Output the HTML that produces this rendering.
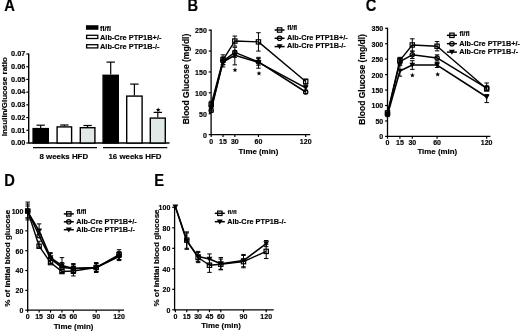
<!DOCTYPE html>
<html><head><meta charset="utf-8"><style>
html,body{margin:0;padding:0;background:#fff;width:520px;height:332px;overflow:hidden}
svg{display:block;filter:blur(0.35px)}
text{font-family:"Liberation Sans", sans-serif;fill:#000;stroke:#000;stroke-width:0.15px}
</style></head><body>
<svg width="520" height="332" viewBox="0 0 520 332">
<rect width="520" height="332" fill="#fff"/>
<text transform="translate(4.30 10.90) scale(0.92 1)" x="0" y="0" font-size="16" font-weight="bold">A</text>
<line x1="28.70" y1="53.40" x2="28.70" y2="143.60" stroke="#000" stroke-width="1.4"/>
<line x1="26.30" y1="143.00" x2="28.70" y2="143.00" stroke="#000" stroke-width="1.2"/>
<text x="25.30" y="145.30" font-size="7.3" text-anchor="end" font-weight="bold">0.00</text>
<line x1="26.30" y1="130.29" x2="28.70" y2="130.29" stroke="#000" stroke-width="1.2"/>
<text x="25.30" y="132.59" font-size="7.3" text-anchor="end" font-weight="bold">0.01</text>
<line x1="26.30" y1="117.57" x2="28.70" y2="117.57" stroke="#000" stroke-width="1.2"/>
<text x="25.30" y="119.87" font-size="7.3" text-anchor="end" font-weight="bold">0.02</text>
<line x1="26.30" y1="104.86" x2="28.70" y2="104.86" stroke="#000" stroke-width="1.2"/>
<text x="25.30" y="107.16" font-size="7.3" text-anchor="end" font-weight="bold">0.03</text>
<line x1="26.30" y1="92.14" x2="28.70" y2="92.14" stroke="#000" stroke-width="1.2"/>
<text x="25.30" y="94.44" font-size="7.3" text-anchor="end" font-weight="bold">0.04</text>
<line x1="26.30" y1="79.43" x2="28.70" y2="79.43" stroke="#000" stroke-width="1.2"/>
<text x="25.30" y="81.73" font-size="7.3" text-anchor="end" font-weight="bold">0.05</text>
<line x1="26.30" y1="66.71" x2="28.70" y2="66.71" stroke="#000" stroke-width="1.2"/>
<text x="25.30" y="69.01" font-size="7.3" text-anchor="end" font-weight="bold">0.06</text>
<line x1="26.30" y1="54.00" x2="28.70" y2="54.00" stroke="#000" stroke-width="1.2"/>
<text x="25.30" y="56.30" font-size="7.3" text-anchor="end" font-weight="bold">0.07</text>
<line x1="28.70" y1="143.00" x2="169.50" y2="143.00" stroke="#000" stroke-width="1.4"/>
<text x="6.60" y="96.70" font-size="8" text-anchor="middle" font-weight="bold" transform="rotate(-90 6.6 96.7)">Insulin/Glucose ratio</text>
<line x1="40.70" y1="127.90" x2="40.70" y2="125.20" stroke="#000" stroke-width="1.2"/>
<line x1="36.50" y1="125.20" x2="44.90" y2="125.20" stroke="#000" stroke-width="1.2"/>
<rect x="33.10" y="128.60" width="15.20" height="14.40" fill="#000" stroke="#000" stroke-width="1.4"/>
<line x1="64.35" y1="126.20" x2="64.35" y2="125.00" stroke="#000" stroke-width="1.2"/>
<line x1="60.15" y1="125.00" x2="68.55" y2="125.00" stroke="#000" stroke-width="1.2"/>
<rect x="57.10" y="126.90" width="14.50" height="16.10" fill="#fff" stroke="#000" stroke-width="1.4"/>
<line x1="87.60" y1="127.00" x2="87.60" y2="125.50" stroke="#000" stroke-width="1.2"/>
<line x1="83.40" y1="125.50" x2="91.80" y2="125.50" stroke="#000" stroke-width="1.2"/>
<rect x="80.30" y="127.70" width="14.60" height="15.30" fill="#e0e9e6" stroke="#000" stroke-width="1.4"/>
<line x1="110.70" y1="74.60" x2="110.70" y2="62.10" stroke="#000" stroke-width="1.2"/>
<line x1="106.50" y1="62.10" x2="114.90" y2="62.10" stroke="#000" stroke-width="1.2"/>
<rect x="103.10" y="75.30" width="15.20" height="67.70" fill="#000" stroke="#000" stroke-width="1.4"/>
<line x1="134.40" y1="95.40" x2="134.40" y2="84.10" stroke="#000" stroke-width="1.2"/>
<line x1="130.20" y1="84.10" x2="138.60" y2="84.10" stroke="#000" stroke-width="1.2"/>
<rect x="126.70" y="96.10" width="15.40" height="46.90" fill="#fff" stroke="#000" stroke-width="1.4"/>
<line x1="157.80" y1="117.40" x2="157.80" y2="112.40" stroke="#000" stroke-width="1.2"/>
<line x1="153.60" y1="112.40" x2="162.00" y2="112.40" stroke="#000" stroke-width="1.2"/>
<rect x="150.30" y="118.10" width="15.00" height="24.90" fill="#e0e9e6" stroke="#000" stroke-width="1.4"/>
<polygon points="158.20,107.40 158.86,108.99 160.58,109.13 159.27,110.25 159.67,111.92 158.20,111.02 156.73,111.92 157.13,110.25 155.82,109.13 157.54,108.99" fill="#000"/>
<line x1="33.00" y1="147.60" x2="97.00" y2="147.60" stroke="#000" stroke-width="1.4"/>
<line x1="103.00" y1="147.60" x2="167.30" y2="147.60" stroke="#000" stroke-width="1.4"/>
<text x="63.80" y="159.20" font-size="7.9" text-anchor="middle" font-weight="bold">8 weeks HFD</text>
<text x="135.00" y="159.20" font-size="7.9" text-anchor="middle" font-weight="bold">16 weeks HFD</text>
<rect x="86.6" y="25.90" width="11.2" height="3.2" fill="#000" stroke="#000" stroke-width="1.3"/>
<text x="100.00" y="30.60" font-size="7.4" text-anchor="start" font-weight="bold">fl/fl</text>
<rect x="86.6" y="35.30" width="11.2" height="3.2" fill="#fff" stroke="#000" stroke-width="1.3"/>
<text x="100.00" y="39.50" font-size="7.4" text-anchor="start" font-weight="bold">Alb-Cre PTP1B+/-</text>
<rect x="86.6" y="44.70" width="11.2" height="3.2" fill="#fff" stroke="#000" stroke-width="1.3"/>
<text x="100.00" y="48.90" font-size="7.4" text-anchor="start" font-weight="bold">Alb-Cre PTP1B-/-</text>
<text transform="translate(187.60 10.80) scale(0.92 1)" x="0" y="0" font-size="16" font-weight="bold">B</text>
<line x1="211.10" y1="29.60" x2="211.10" y2="135.20" stroke="#000" stroke-width="1.3"/>
<line x1="208.70" y1="134.60" x2="211.10" y2="134.60" stroke="#000" stroke-width="1.2"/>
<text x="206.80" y="137.50" font-size="7" text-anchor="end" font-weight="bold">0</text>
<line x1="208.70" y1="113.72" x2="211.10" y2="113.72" stroke="#000" stroke-width="1.2"/>
<text x="206.80" y="116.62" font-size="7" text-anchor="end" font-weight="bold">50</text>
<line x1="208.70" y1="92.84" x2="211.10" y2="92.84" stroke="#000" stroke-width="1.2"/>
<text x="206.80" y="95.74" font-size="7" text-anchor="end" font-weight="bold">100</text>
<line x1="208.70" y1="71.96" x2="211.10" y2="71.96" stroke="#000" stroke-width="1.2"/>
<text x="206.80" y="74.86" font-size="7" text-anchor="end" font-weight="bold">150</text>
<line x1="208.70" y1="51.08" x2="211.10" y2="51.08" stroke="#000" stroke-width="1.2"/>
<text x="206.80" y="53.98" font-size="7" text-anchor="end" font-weight="bold">200</text>
<line x1="208.70" y1="30.20" x2="211.10" y2="30.20" stroke="#000" stroke-width="1.2"/>
<text x="206.80" y="33.10" font-size="7" text-anchor="end" font-weight="bold">250</text>
<line x1="211.10" y1="134.60" x2="310.30" y2="134.60" stroke="#000" stroke-width="1.3"/>
<line x1="211.20" y1="134.60" x2="211.20" y2="137.00" stroke="#000" stroke-width="1.2"/>
<text x="211.20" y="143.80" font-size="7" text-anchor="middle" font-weight="bold">0</text>
<line x1="223.01" y1="134.60" x2="223.01" y2="137.00" stroke="#000" stroke-width="1.2"/>
<text x="223.01" y="143.80" font-size="7" text-anchor="middle" font-weight="bold">15</text>
<line x1="234.82" y1="134.60" x2="234.82" y2="137.00" stroke="#000" stroke-width="1.2"/>
<text x="234.82" y="143.80" font-size="7" text-anchor="middle" font-weight="bold">30</text>
<line x1="258.45" y1="134.60" x2="258.45" y2="137.00" stroke="#000" stroke-width="1.2"/>
<text x="258.45" y="143.80" font-size="7" text-anchor="middle" font-weight="bold">60</text>
<line x1="305.70" y1="134.60" x2="305.70" y2="137.00" stroke="#000" stroke-width="1.2"/>
<text x="305.70" y="143.80" font-size="7" text-anchor="middle" font-weight="bold">120</text>
<text x="258.40" y="154.10" font-size="7.9" text-anchor="middle" font-weight="bold">Time (min)</text>
<text x="188.60" y="79.00" font-size="8.5" text-anchor="middle" font-weight="bold" transform="rotate(-90 188.6 79.0)">Blood Glucose (mg/dl)</text>
<polyline points="211.20,110.38 223.01,61.10 234.82,52.33 258.45,61.94 305.70,92.00" fill="none" stroke="#000" stroke-width="1.5" stroke-linejoin="round"/>
<polyline points="211.20,107.46 223.01,61.94 234.82,55.26 258.45,62.36 305.70,87.83" fill="none" stroke="#000" stroke-width="1.6" stroke-linejoin="round"/>
<polyline points="211.20,104.53 223.01,59.85 234.82,41.06 258.45,41.89 305.70,81.56" fill="none" stroke="#000" stroke-width="1.4" stroke-linejoin="round"/>
<line x1="211.20" y1="110.38" x2="211.20" y2="108.29" stroke="#000" stroke-width="1.0"/>
<line x1="208.95" y1="108.29" x2="213.45" y2="108.29" stroke="#000" stroke-width="1.0"/>
<line x1="211.20" y1="110.38" x2="211.20" y2="112.47" stroke="#000" stroke-width="1.0"/>
<line x1="208.95" y1="112.47" x2="213.45" y2="112.47" stroke="#000" stroke-width="1.0"/>
<line x1="223.01" y1="61.10" x2="223.01" y2="57.76" stroke="#000" stroke-width="1.0"/>
<line x1="220.76" y1="57.76" x2="225.26" y2="57.76" stroke="#000" stroke-width="1.0"/>
<line x1="223.01" y1="61.10" x2="223.01" y2="64.44" stroke="#000" stroke-width="1.0"/>
<line x1="220.76" y1="64.44" x2="225.26" y2="64.44" stroke="#000" stroke-width="1.0"/>
<line x1="234.82" y1="52.33" x2="234.82" y2="47.32" stroke="#000" stroke-width="1.0"/>
<line x1="232.57" y1="47.32" x2="237.07" y2="47.32" stroke="#000" stroke-width="1.0"/>
<line x1="234.82" y1="52.33" x2="234.82" y2="57.34" stroke="#000" stroke-width="1.0"/>
<line x1="232.57" y1="57.34" x2="237.07" y2="57.34" stroke="#000" stroke-width="1.0"/>
<line x1="258.45" y1="61.94" x2="258.45" y2="58.60" stroke="#000" stroke-width="1.0"/>
<line x1="256.20" y1="58.60" x2="260.70" y2="58.60" stroke="#000" stroke-width="1.0"/>
<line x1="258.45" y1="61.94" x2="258.45" y2="65.28" stroke="#000" stroke-width="1.0"/>
<line x1="256.20" y1="65.28" x2="260.70" y2="65.28" stroke="#000" stroke-width="1.0"/>
<line x1="305.70" y1="92.00" x2="305.70" y2="90.33" stroke="#000" stroke-width="1.0"/>
<line x1="303.45" y1="90.33" x2="307.95" y2="90.33" stroke="#000" stroke-width="1.0"/>
<line x1="305.70" y1="92.00" x2="305.70" y2="93.68" stroke="#000" stroke-width="1.0"/>
<line x1="303.45" y1="93.68" x2="307.95" y2="93.68" stroke="#000" stroke-width="1.0"/>
<line x1="211.20" y1="107.46" x2="211.20" y2="104.12" stroke="#000" stroke-width="1.0"/>
<line x1="208.95" y1="104.12" x2="213.45" y2="104.12" stroke="#000" stroke-width="1.0"/>
<line x1="211.20" y1="107.46" x2="211.20" y2="110.80" stroke="#000" stroke-width="1.0"/>
<line x1="208.95" y1="110.80" x2="213.45" y2="110.80" stroke="#000" stroke-width="1.0"/>
<line x1="223.01" y1="61.94" x2="223.01" y2="56.93" stroke="#000" stroke-width="1.0"/>
<line x1="220.76" y1="56.93" x2="225.26" y2="56.93" stroke="#000" stroke-width="1.0"/>
<line x1="223.01" y1="61.94" x2="223.01" y2="66.95" stroke="#000" stroke-width="1.0"/>
<line x1="220.76" y1="66.95" x2="225.26" y2="66.95" stroke="#000" stroke-width="1.0"/>
<line x1="234.82" y1="55.26" x2="234.82" y2="51.08" stroke="#000" stroke-width="1.0"/>
<line x1="232.57" y1="51.08" x2="237.07" y2="51.08" stroke="#000" stroke-width="1.0"/>
<line x1="234.82" y1="55.26" x2="234.82" y2="64.86" stroke="#000" stroke-width="1.0"/>
<line x1="232.57" y1="64.86" x2="237.07" y2="64.86" stroke="#000" stroke-width="1.0"/>
<line x1="258.45" y1="62.36" x2="258.45" y2="57.34" stroke="#000" stroke-width="1.0"/>
<line x1="256.20" y1="57.34" x2="260.70" y2="57.34" stroke="#000" stroke-width="1.0"/>
<line x1="258.45" y1="62.36" x2="258.45" y2="68.20" stroke="#000" stroke-width="1.0"/>
<line x1="256.20" y1="68.20" x2="260.70" y2="68.20" stroke="#000" stroke-width="1.0"/>
<line x1="305.70" y1="87.83" x2="305.70" y2="85.32" stroke="#000" stroke-width="1.0"/>
<line x1="303.45" y1="85.32" x2="307.95" y2="85.32" stroke="#000" stroke-width="1.0"/>
<line x1="305.70" y1="87.83" x2="305.70" y2="90.33" stroke="#000" stroke-width="1.0"/>
<line x1="303.45" y1="90.33" x2="307.95" y2="90.33" stroke="#000" stroke-width="1.0"/>
<line x1="211.20" y1="104.53" x2="211.20" y2="101.19" stroke="#000" stroke-width="1.0"/>
<line x1="208.95" y1="101.19" x2="213.45" y2="101.19" stroke="#000" stroke-width="1.0"/>
<line x1="211.20" y1="104.53" x2="211.20" y2="107.87" stroke="#000" stroke-width="1.0"/>
<line x1="208.95" y1="107.87" x2="213.45" y2="107.87" stroke="#000" stroke-width="1.0"/>
<line x1="223.01" y1="59.85" x2="223.01" y2="54.84" stroke="#000" stroke-width="1.0"/>
<line x1="220.76" y1="54.84" x2="225.26" y2="54.84" stroke="#000" stroke-width="1.0"/>
<line x1="223.01" y1="59.85" x2="223.01" y2="64.86" stroke="#000" stroke-width="1.0"/>
<line x1="220.76" y1="64.86" x2="225.26" y2="64.86" stroke="#000" stroke-width="1.0"/>
<line x1="234.82" y1="41.06" x2="234.82" y2="36.05" stroke="#000" stroke-width="1.0"/>
<line x1="232.57" y1="36.05" x2="237.07" y2="36.05" stroke="#000" stroke-width="1.0"/>
<line x1="234.82" y1="41.06" x2="234.82" y2="46.07" stroke="#000" stroke-width="1.0"/>
<line x1="232.57" y1="46.07" x2="237.07" y2="46.07" stroke="#000" stroke-width="1.0"/>
<line x1="258.45" y1="41.89" x2="258.45" y2="32.71" stroke="#000" stroke-width="1.0"/>
<line x1="256.20" y1="32.71" x2="260.70" y2="32.71" stroke="#000" stroke-width="1.0"/>
<line x1="258.45" y1="41.89" x2="258.45" y2="51.08" stroke="#000" stroke-width="1.0"/>
<line x1="256.20" y1="51.08" x2="260.70" y2="51.08" stroke="#000" stroke-width="1.0"/>
<line x1="305.70" y1="81.56" x2="305.70" y2="79.06" stroke="#000" stroke-width="1.0"/>
<line x1="303.45" y1="79.06" x2="307.95" y2="79.06" stroke="#000" stroke-width="1.0"/>
<line x1="305.70" y1="81.56" x2="305.70" y2="84.07" stroke="#000" stroke-width="1.0"/>
<line x1="303.45" y1="84.07" x2="307.95" y2="84.07" stroke="#000" stroke-width="1.0"/>
<circle cx="211.20" cy="110.38" r="2.15" fill="none" stroke="#000" stroke-width="1.2"/>
<circle cx="223.01" cy="61.10" r="2.15" fill="none" stroke="#000" stroke-width="1.2"/>
<circle cx="234.82" cy="52.33" r="2.15" fill="none" stroke="#000" stroke-width="1.2"/>
<circle cx="258.45" cy="61.94" r="2.15" fill="none" stroke="#000" stroke-width="1.2"/>
<circle cx="305.70" cy="92.00" r="2.15" fill="none" stroke="#000" stroke-width="1.2"/>
<polygon points="208.30,105.20 214.10,105.20 211.20,110.11" fill="#000"/>
<polygon points="220.11,59.68 225.91,59.68 223.01,64.60" fill="#000"/>
<polygon points="231.92,53.00 237.73,53.00 234.82,57.91" fill="#000"/>
<polygon points="255.55,60.10 261.35,60.10 258.45,65.01" fill="#000"/>
<polygon points="302.80,85.57 308.60,85.57 305.70,90.49" fill="#000"/>
<rect x="209.05" y="102.38" width="4.30" height="4.30" fill="none" stroke="#000" stroke-width="1.2"/>
<rect x="220.86" y="57.70" width="4.30" height="4.30" fill="none" stroke="#000" stroke-width="1.2"/>
<rect x="232.67" y="38.91" width="4.30" height="4.30" fill="none" stroke="#000" stroke-width="1.2"/>
<rect x="256.30" y="39.74" width="4.30" height="4.30" fill="none" stroke="#000" stroke-width="1.2"/>
<rect x="303.55" y="79.41" width="4.30" height="4.30" fill="none" stroke="#000" stroke-width="1.2"/>
<polygon points="235.00,67.60 235.66,69.19 237.38,69.33 236.07,70.45 236.47,72.12 235.00,71.22 233.53,72.12 233.93,70.45 232.62,69.33 234.34,69.19" fill="#000"/>
<polygon points="259.00,71.00 259.66,72.59 261.38,72.73 260.07,73.85 260.47,75.52 259.00,74.62 257.53,75.52 257.93,73.85 256.62,72.73 258.34,72.59" fill="#000"/>
<line x1="274.60" y1="30.00" x2="284.60" y2="30.00" stroke="#000" stroke-width="1.5"/>
<rect x="277.40" y="27.80" width="4.40" height="4.40" fill="none" stroke="#000" stroke-width="1.2"/>
<text x="287.20" y="30.40" font-size="6.7" text-anchor="start" font-weight="bold">fl/fl</text>
<line x1="274.60" y1="38.30" x2="284.60" y2="38.30" stroke="#000" stroke-width="1.5"/>
<circle cx="279.60" cy="38.30" r="2.20" fill="none" stroke="#000" stroke-width="1.2"/>
<text x="287.00" y="40.10" font-size="7.3" text-anchor="start" font-weight="bold">Alb-Cre PTP1B+/-</text>
<line x1="274.60" y1="46.60" x2="284.60" y2="46.60" stroke="#000" stroke-width="1.5"/>
<polygon points="276.63,44.29 282.57,44.29 279.60,49.31" fill="#000"/>
<text x="287.00" y="48.40" font-size="7.3" text-anchor="start" font-weight="bold">Alb-Cre PTP1B-/-</text>
<text transform="translate(365.80 10.80) scale(0.92 1)" x="0" y="0" font-size="16" font-weight="bold">C</text>
<line x1="387.50" y1="27.70" x2="387.50" y2="137.00" stroke="#000" stroke-width="1.3"/>
<line x1="385.10" y1="136.40" x2="387.50" y2="136.40" stroke="#000" stroke-width="1.2"/>
<text x="383.20" y="139.30" font-size="7" text-anchor="end" font-weight="bold">0</text>
<line x1="385.10" y1="120.96" x2="387.50" y2="120.96" stroke="#000" stroke-width="1.2"/>
<text x="383.20" y="123.86" font-size="7" text-anchor="end" font-weight="bold">50</text>
<line x1="385.10" y1="105.51" x2="387.50" y2="105.51" stroke="#000" stroke-width="1.2"/>
<text x="383.20" y="108.41" font-size="7" text-anchor="end" font-weight="bold">100</text>
<line x1="385.10" y1="90.07" x2="387.50" y2="90.07" stroke="#000" stroke-width="1.2"/>
<text x="383.20" y="92.97" font-size="7" text-anchor="end" font-weight="bold">150</text>
<line x1="385.10" y1="74.63" x2="387.50" y2="74.63" stroke="#000" stroke-width="1.2"/>
<text x="383.20" y="77.53" font-size="7" text-anchor="end" font-weight="bold">200</text>
<line x1="385.10" y1="59.19" x2="387.50" y2="59.19" stroke="#000" stroke-width="1.2"/>
<text x="383.20" y="62.09" font-size="7" text-anchor="end" font-weight="bold">250</text>
<line x1="385.10" y1="43.74" x2="387.50" y2="43.74" stroke="#000" stroke-width="1.2"/>
<text x="383.20" y="46.64" font-size="7" text-anchor="end" font-weight="bold">300</text>
<line x1="385.10" y1="28.30" x2="387.50" y2="28.30" stroke="#000" stroke-width="1.2"/>
<text x="383.20" y="31.20" font-size="7" text-anchor="end" font-weight="bold">350</text>
<line x1="387.50" y1="136.40" x2="490.40" y2="136.40" stroke="#000" stroke-width="1.3"/>
<line x1="387.50" y1="136.40" x2="387.50" y2="138.80" stroke="#000" stroke-width="1.2"/>
<text x="387.50" y="145.20" font-size="7" text-anchor="middle" font-weight="bold">0</text>
<line x1="399.90" y1="136.40" x2="399.90" y2="138.80" stroke="#000" stroke-width="1.2"/>
<text x="399.90" y="145.20" font-size="7" text-anchor="middle" font-weight="bold">15</text>
<line x1="412.30" y1="136.40" x2="412.30" y2="138.80" stroke="#000" stroke-width="1.2"/>
<text x="412.30" y="145.20" font-size="7" text-anchor="middle" font-weight="bold">30</text>
<line x1="437.09" y1="136.40" x2="437.09" y2="138.80" stroke="#000" stroke-width="1.2"/>
<text x="437.09" y="145.20" font-size="7" text-anchor="middle" font-weight="bold">60</text>
<line x1="486.68" y1="136.40" x2="486.68" y2="138.80" stroke="#000" stroke-width="1.2"/>
<text x="486.68" y="145.20" font-size="7" text-anchor="middle" font-weight="bold">120</text>
<text x="437.30" y="153.80" font-size="7.9" text-anchor="middle" font-weight="bold">Time (min)</text>
<text x="365.20" y="79.40" font-size="8.5" text-anchor="middle" font-weight="bold" transform="rotate(-90 365.2 79.4)">Blood Glucose (mg/dl)</text>
<polyline points="387.50,114.16 399.90,61.66 412.30,54.86 437.09,57.95 486.68,88.22" fill="none" stroke="#000" stroke-width="1.5" stroke-linejoin="round"/>
<polyline points="387.50,114.78 399.90,70.92 412.30,65.05 437.09,65.05 486.68,97.02" fill="none" stroke="#000" stroke-width="1.6" stroke-linejoin="round"/>
<polyline points="387.50,112.93 399.90,60.42 412.30,44.98 437.09,46.21 486.68,88.84" fill="none" stroke="#000" stroke-width="1.4" stroke-linejoin="round"/>
<line x1="387.50" y1="114.16" x2="387.50" y2="112.62" stroke="#000" stroke-width="1.0"/>
<line x1="385.25" y1="112.62" x2="389.75" y2="112.62" stroke="#000" stroke-width="1.0"/>
<line x1="387.50" y1="114.16" x2="387.50" y2="115.71" stroke="#000" stroke-width="1.0"/>
<line x1="385.25" y1="115.71" x2="389.75" y2="115.71" stroke="#000" stroke-width="1.0"/>
<line x1="399.90" y1="61.66" x2="399.90" y2="58.57" stroke="#000" stroke-width="1.0"/>
<line x1="397.65" y1="58.57" x2="402.15" y2="58.57" stroke="#000" stroke-width="1.0"/>
<line x1="399.90" y1="61.66" x2="399.90" y2="64.75" stroke="#000" stroke-width="1.0"/>
<line x1="397.65" y1="64.75" x2="402.15" y2="64.75" stroke="#000" stroke-width="1.0"/>
<line x1="412.30" y1="54.86" x2="412.30" y2="51.16" stroke="#000" stroke-width="1.0"/>
<line x1="410.05" y1="51.16" x2="414.55" y2="51.16" stroke="#000" stroke-width="1.0"/>
<line x1="412.30" y1="54.86" x2="412.30" y2="58.57" stroke="#000" stroke-width="1.0"/>
<line x1="410.05" y1="58.57" x2="414.55" y2="58.57" stroke="#000" stroke-width="1.0"/>
<line x1="437.09" y1="57.95" x2="437.09" y2="54.86" stroke="#000" stroke-width="1.0"/>
<line x1="434.84" y1="54.86" x2="439.34" y2="54.86" stroke="#000" stroke-width="1.0"/>
<line x1="437.09" y1="57.95" x2="437.09" y2="61.04" stroke="#000" stroke-width="1.0"/>
<line x1="434.84" y1="61.04" x2="439.34" y2="61.04" stroke="#000" stroke-width="1.0"/>
<line x1="486.68" y1="88.22" x2="486.68" y2="85.75" stroke="#000" stroke-width="1.0"/>
<line x1="484.43" y1="85.75" x2="488.93" y2="85.75" stroke="#000" stroke-width="1.0"/>
<line x1="486.68" y1="88.22" x2="486.68" y2="90.69" stroke="#000" stroke-width="1.0"/>
<line x1="484.43" y1="90.69" x2="488.93" y2="90.69" stroke="#000" stroke-width="1.0"/>
<line x1="387.50" y1="114.78" x2="387.50" y2="112.93" stroke="#000" stroke-width="1.0"/>
<line x1="385.25" y1="112.93" x2="389.75" y2="112.93" stroke="#000" stroke-width="1.0"/>
<line x1="387.50" y1="114.78" x2="387.50" y2="116.63" stroke="#000" stroke-width="1.0"/>
<line x1="385.25" y1="116.63" x2="389.75" y2="116.63" stroke="#000" stroke-width="1.0"/>
<line x1="399.90" y1="70.92" x2="399.90" y2="65.67" stroke="#000" stroke-width="1.0"/>
<line x1="397.65" y1="65.67" x2="402.15" y2="65.67" stroke="#000" stroke-width="1.0"/>
<line x1="399.90" y1="70.92" x2="399.90" y2="76.17" stroke="#000" stroke-width="1.0"/>
<line x1="397.65" y1="76.17" x2="402.15" y2="76.17" stroke="#000" stroke-width="1.0"/>
<line x1="412.30" y1="65.05" x2="412.30" y2="60.73" stroke="#000" stroke-width="1.0"/>
<line x1="410.05" y1="60.73" x2="414.55" y2="60.73" stroke="#000" stroke-width="1.0"/>
<line x1="412.30" y1="65.05" x2="412.30" y2="69.38" stroke="#000" stroke-width="1.0"/>
<line x1="410.05" y1="69.38" x2="414.55" y2="69.38" stroke="#000" stroke-width="1.0"/>
<line x1="437.09" y1="65.05" x2="437.09" y2="62.58" stroke="#000" stroke-width="1.0"/>
<line x1="434.84" y1="62.58" x2="439.34" y2="62.58" stroke="#000" stroke-width="1.0"/>
<line x1="437.09" y1="65.05" x2="437.09" y2="67.52" stroke="#000" stroke-width="1.0"/>
<line x1="434.84" y1="67.52" x2="439.34" y2="67.52" stroke="#000" stroke-width="1.0"/>
<line x1="486.68" y1="97.02" x2="486.68" y2="94.55" stroke="#000" stroke-width="1.0"/>
<line x1="484.43" y1="94.55" x2="488.93" y2="94.55" stroke="#000" stroke-width="1.0"/>
<line x1="486.68" y1="97.02" x2="486.68" y2="102.58" stroke="#000" stroke-width="1.0"/>
<line x1="484.43" y1="102.58" x2="488.93" y2="102.58" stroke="#000" stroke-width="1.0"/>
<line x1="387.50" y1="112.93" x2="387.50" y2="111.07" stroke="#000" stroke-width="1.0"/>
<line x1="385.25" y1="111.07" x2="389.75" y2="111.07" stroke="#000" stroke-width="1.0"/>
<line x1="387.50" y1="112.93" x2="387.50" y2="114.78" stroke="#000" stroke-width="1.0"/>
<line x1="385.25" y1="114.78" x2="389.75" y2="114.78" stroke="#000" stroke-width="1.0"/>
<line x1="399.90" y1="60.42" x2="399.90" y2="57.33" stroke="#000" stroke-width="1.0"/>
<line x1="397.65" y1="57.33" x2="402.15" y2="57.33" stroke="#000" stroke-width="1.0"/>
<line x1="399.90" y1="60.42" x2="399.90" y2="63.51" stroke="#000" stroke-width="1.0"/>
<line x1="397.65" y1="63.51" x2="402.15" y2="63.51" stroke="#000" stroke-width="1.0"/>
<line x1="412.30" y1="44.98" x2="412.30" y2="38.80" stroke="#000" stroke-width="1.0"/>
<line x1="410.05" y1="38.80" x2="414.55" y2="38.80" stroke="#000" stroke-width="1.0"/>
<line x1="412.30" y1="44.98" x2="412.30" y2="51.16" stroke="#000" stroke-width="1.0"/>
<line x1="410.05" y1="51.16" x2="414.55" y2="51.16" stroke="#000" stroke-width="1.0"/>
<line x1="437.09" y1="46.21" x2="437.09" y2="41.58" stroke="#000" stroke-width="1.0"/>
<line x1="434.84" y1="41.58" x2="439.34" y2="41.58" stroke="#000" stroke-width="1.0"/>
<line x1="437.09" y1="46.21" x2="437.09" y2="50.85" stroke="#000" stroke-width="1.0"/>
<line x1="434.84" y1="50.85" x2="439.34" y2="50.85" stroke="#000" stroke-width="1.0"/>
<line x1="486.68" y1="88.84" x2="486.68" y2="82.97" stroke="#000" stroke-width="1.0"/>
<line x1="484.43" y1="82.97" x2="488.93" y2="82.97" stroke="#000" stroke-width="1.0"/>
<line x1="486.68" y1="88.84" x2="486.68" y2="90.69" stroke="#000" stroke-width="1.0"/>
<line x1="484.43" y1="90.69" x2="488.93" y2="90.69" stroke="#000" stroke-width="1.0"/>
<circle cx="387.50" cy="114.16" r="2.15" fill="none" stroke="#000" stroke-width="1.2"/>
<circle cx="399.90" cy="61.66" r="2.15" fill="none" stroke="#000" stroke-width="1.2"/>
<circle cx="412.30" cy="54.86" r="2.15" fill="none" stroke="#000" stroke-width="1.2"/>
<circle cx="437.09" cy="57.95" r="2.15" fill="none" stroke="#000" stroke-width="1.2"/>
<circle cx="486.68" cy="88.22" r="2.15" fill="none" stroke="#000" stroke-width="1.2"/>
<polygon points="384.60,112.52 390.40,112.52 387.50,117.44" fill="#000"/>
<polygon points="397.00,68.66 402.80,68.66 399.90,73.58" fill="#000"/>
<polygon points="409.39,62.80 415.20,62.80 412.30,67.71" fill="#000"/>
<polygon points="434.19,62.80 439.99,62.80 437.09,67.71" fill="#000"/>
<polygon points="483.78,94.76 489.58,94.76 486.68,99.68" fill="#000"/>
<rect x="385.35" y="110.78" width="4.30" height="4.30" fill="none" stroke="#000" stroke-width="1.2"/>
<rect x="397.75" y="58.27" width="4.30" height="4.30" fill="none" stroke="#000" stroke-width="1.2"/>
<rect x="410.15" y="42.83" width="4.30" height="4.30" fill="none" stroke="#000" stroke-width="1.2"/>
<rect x="434.94" y="44.06" width="4.30" height="4.30" fill="none" stroke="#000" stroke-width="1.2"/>
<rect x="484.53" y="86.69" width="4.30" height="4.30" fill="none" stroke="#000" stroke-width="1.2"/>
<polygon points="412.40,72.80 413.06,74.39 414.78,74.53 413.47,75.65 413.87,77.32 412.40,76.42 410.93,77.32 411.33,75.65 410.02,74.53 411.74,74.39" fill="#000"/>
<polygon points="437.70,71.90 438.36,73.49 440.08,73.63 438.77,74.75 439.17,76.42 437.70,75.52 436.23,76.42 436.63,74.75 435.32,73.63 437.04,73.49" fill="#000"/>
<line x1="446.90" y1="35.30" x2="456.90" y2="35.30" stroke="#000" stroke-width="1.5"/>
<rect x="449.70" y="33.10" width="4.40" height="4.40" fill="none" stroke="#000" stroke-width="1.2"/>
<text x="459.50" y="35.70" font-size="6.7" text-anchor="start" font-weight="bold">fl/fl</text>
<line x1="446.90" y1="43.70" x2="456.90" y2="43.70" stroke="#000" stroke-width="1.5"/>
<circle cx="451.90" cy="43.70" r="2.20" fill="none" stroke="#000" stroke-width="1.2"/>
<text x="459.30" y="45.50" font-size="7.3" text-anchor="start" font-weight="bold">Alb-Cre PTP1B+/-</text>
<line x1="446.90" y1="52.10" x2="456.90" y2="52.10" stroke="#000" stroke-width="1.5"/>
<polygon points="448.93,49.79 454.87,49.79 451.90,54.81" fill="#000"/>
<text x="459.30" y="53.90" font-size="7.3" text-anchor="start" font-weight="bold">Alb-Cre PTP1B-/-</text>
<text transform="translate(4.20 185.60) scale(0.92 1)" x="0" y="0" font-size="16" font-weight="bold">D</text>
<line x1="27.70" y1="210.40" x2="27.70" y2="310.80" stroke="#000" stroke-width="1.3"/>
<line x1="25.30" y1="310.20" x2="27.70" y2="310.20" stroke="#000" stroke-width="1.2"/>
<text x="23.40" y="313.10" font-size="7" text-anchor="end" font-weight="bold">0</text>
<line x1="25.30" y1="290.36" x2="27.70" y2="290.36" stroke="#000" stroke-width="1.2"/>
<text x="23.40" y="293.26" font-size="7" text-anchor="end" font-weight="bold">20</text>
<line x1="25.30" y1="270.52" x2="27.70" y2="270.52" stroke="#000" stroke-width="1.2"/>
<text x="23.40" y="273.42" font-size="7" text-anchor="end" font-weight="bold">40</text>
<line x1="25.30" y1="250.68" x2="27.70" y2="250.68" stroke="#000" stroke-width="1.2"/>
<text x="23.40" y="253.58" font-size="7" text-anchor="end" font-weight="bold">60</text>
<line x1="25.30" y1="230.84" x2="27.70" y2="230.84" stroke="#000" stroke-width="1.2"/>
<text x="23.40" y="233.74" font-size="7" text-anchor="end" font-weight="bold">80</text>
<line x1="25.30" y1="211.00" x2="27.70" y2="211.00" stroke="#000" stroke-width="1.2"/>
<text x="23.40" y="213.90" font-size="7" text-anchor="end" font-weight="bold">100</text>
<line x1="27.70" y1="310.20" x2="124.00" y2="310.20" stroke="#000" stroke-width="1.3"/>
<line x1="27.70" y1="310.20" x2="27.70" y2="312.60" stroke="#000" stroke-width="1.2"/>
<text x="27.70" y="319.20" font-size="7" text-anchor="middle" font-weight="bold">0</text>
<line x1="39.12" y1="310.20" x2="39.12" y2="312.60" stroke="#000" stroke-width="1.2"/>
<text x="39.12" y="319.20" font-size="7" text-anchor="middle" font-weight="bold">15</text>
<line x1="50.54" y1="310.20" x2="50.54" y2="312.60" stroke="#000" stroke-width="1.2"/>
<text x="50.54" y="319.20" font-size="7" text-anchor="middle" font-weight="bold">30</text>
<line x1="61.96" y1="310.20" x2="61.96" y2="312.60" stroke="#000" stroke-width="1.2"/>
<text x="61.96" y="319.20" font-size="7" text-anchor="middle" font-weight="bold">45</text>
<line x1="73.38" y1="310.20" x2="73.38" y2="312.60" stroke="#000" stroke-width="1.2"/>
<text x="73.38" y="319.20" font-size="7" text-anchor="middle" font-weight="bold">60</text>
<line x1="96.22" y1="310.20" x2="96.22" y2="312.60" stroke="#000" stroke-width="1.2"/>
<text x="96.22" y="319.20" font-size="7" text-anchor="middle" font-weight="bold">90</text>
<line x1="119.06" y1="310.20" x2="119.06" y2="312.60" stroke="#000" stroke-width="1.2"/>
<text x="119.06" y="319.20" font-size="7" text-anchor="middle" font-weight="bold">120</text>
<text x="73.50" y="329.40" font-size="7.9" text-anchor="middle" font-weight="bold">Time (min)</text>
<text x="9.90" y="258.20" font-size="8.05" text-anchor="middle" font-weight="bold" transform="rotate(-90 9.9 258.2)">% of initial blood glucose</text>
<polyline points="27.70,211.00 39.12,235.80 50.54,258.62 61.96,267.54 73.38,268.54 96.22,267.54 119.06,255.64" fill="none" stroke="#000" stroke-width="1.5" stroke-linejoin="round"/>
<polyline points="27.70,211.99 39.12,230.84 50.54,257.62 61.96,265.56 73.38,268.54 96.22,267.54 119.06,256.63" fill="none" stroke="#000" stroke-width="1.6" stroke-linejoin="round"/>
<polyline points="27.70,211.00 39.12,246.22 50.54,262.58 61.96,271.51 73.38,271.02 96.22,267.54 119.06,254.65" fill="none" stroke="#000" stroke-width="1.4" stroke-linejoin="round"/>
<line x1="27.70" y1="211.00" x2="27.70" y2="202.07" stroke="#000" stroke-width="1.0"/>
<line x1="25.45" y1="202.07" x2="29.95" y2="202.07" stroke="#000" stroke-width="1.0"/>
<line x1="27.70" y1="211.00" x2="27.70" y2="219.93" stroke="#000" stroke-width="1.0"/>
<line x1="25.45" y1="219.93" x2="29.95" y2="219.93" stroke="#000" stroke-width="1.0"/>
<line x1="39.12" y1="235.80" x2="39.12" y2="229.85" stroke="#000" stroke-width="1.0"/>
<line x1="36.87" y1="229.85" x2="41.37" y2="229.85" stroke="#000" stroke-width="1.0"/>
<line x1="50.54" y1="258.62" x2="50.54" y2="253.66" stroke="#000" stroke-width="1.0"/>
<line x1="48.29" y1="253.66" x2="52.79" y2="253.66" stroke="#000" stroke-width="1.0"/>
<line x1="61.96" y1="267.54" x2="61.96" y2="262.58" stroke="#000" stroke-width="1.0"/>
<line x1="59.71" y1="262.58" x2="64.21" y2="262.58" stroke="#000" stroke-width="1.0"/>
<line x1="73.38" y1="268.54" x2="73.38" y2="264.57" stroke="#000" stroke-width="1.0"/>
<line x1="71.13" y1="264.57" x2="75.63" y2="264.57" stroke="#000" stroke-width="1.0"/>
<line x1="73.38" y1="268.54" x2="73.38" y2="272.50" stroke="#000" stroke-width="1.0"/>
<line x1="71.13" y1="272.50" x2="75.63" y2="272.50" stroke="#000" stroke-width="1.0"/>
<line x1="96.22" y1="267.54" x2="96.22" y2="263.58" stroke="#000" stroke-width="1.0"/>
<line x1="93.97" y1="263.58" x2="98.47" y2="263.58" stroke="#000" stroke-width="1.0"/>
<line x1="96.22" y1="267.54" x2="96.22" y2="271.51" stroke="#000" stroke-width="1.0"/>
<line x1="93.97" y1="271.51" x2="98.47" y2="271.51" stroke="#000" stroke-width="1.0"/>
<line x1="119.06" y1="255.64" x2="119.06" y2="251.67" stroke="#000" stroke-width="1.0"/>
<line x1="116.81" y1="251.67" x2="121.31" y2="251.67" stroke="#000" stroke-width="1.0"/>
<line x1="119.06" y1="255.64" x2="119.06" y2="259.61" stroke="#000" stroke-width="1.0"/>
<line x1="116.81" y1="259.61" x2="121.31" y2="259.61" stroke="#000" stroke-width="1.0"/>
<line x1="27.70" y1="211.99" x2="27.70" y2="206.04" stroke="#000" stroke-width="1.0"/>
<line x1="25.45" y1="206.04" x2="29.95" y2="206.04" stroke="#000" stroke-width="1.0"/>
<line x1="27.70" y1="211.99" x2="27.70" y2="217.94" stroke="#000" stroke-width="1.0"/>
<line x1="25.45" y1="217.94" x2="29.95" y2="217.94" stroke="#000" stroke-width="1.0"/>
<line x1="39.12" y1="230.84" x2="39.12" y2="223.90" stroke="#000" stroke-width="1.0"/>
<line x1="36.87" y1="223.90" x2="41.37" y2="223.90" stroke="#000" stroke-width="1.0"/>
<line x1="50.54" y1="257.62" x2="50.54" y2="252.66" stroke="#000" stroke-width="1.0"/>
<line x1="48.29" y1="252.66" x2="52.79" y2="252.66" stroke="#000" stroke-width="1.0"/>
<line x1="61.96" y1="265.56" x2="61.96" y2="257.62" stroke="#000" stroke-width="1.0"/>
<line x1="59.71" y1="257.62" x2="64.21" y2="257.62" stroke="#000" stroke-width="1.0"/>
<line x1="73.38" y1="268.54" x2="73.38" y2="263.58" stroke="#000" stroke-width="1.0"/>
<line x1="71.13" y1="263.58" x2="75.63" y2="263.58" stroke="#000" stroke-width="1.0"/>
<line x1="73.38" y1="268.54" x2="73.38" y2="273.50" stroke="#000" stroke-width="1.0"/>
<line x1="71.13" y1="273.50" x2="75.63" y2="273.50" stroke="#000" stroke-width="1.0"/>
<line x1="96.22" y1="267.54" x2="96.22" y2="263.58" stroke="#000" stroke-width="1.0"/>
<line x1="93.97" y1="263.58" x2="98.47" y2="263.58" stroke="#000" stroke-width="1.0"/>
<line x1="96.22" y1="267.54" x2="96.22" y2="271.51" stroke="#000" stroke-width="1.0"/>
<line x1="93.97" y1="271.51" x2="98.47" y2="271.51" stroke="#000" stroke-width="1.0"/>
<line x1="119.06" y1="256.63" x2="119.06" y2="252.66" stroke="#000" stroke-width="1.0"/>
<line x1="116.81" y1="252.66" x2="121.31" y2="252.66" stroke="#000" stroke-width="1.0"/>
<line x1="119.06" y1="256.63" x2="119.06" y2="260.60" stroke="#000" stroke-width="1.0"/>
<line x1="116.81" y1="260.60" x2="121.31" y2="260.60" stroke="#000" stroke-width="1.0"/>
<line x1="27.70" y1="211.00" x2="27.70" y2="204.06" stroke="#000" stroke-width="1.0"/>
<line x1="25.45" y1="204.06" x2="29.95" y2="204.06" stroke="#000" stroke-width="1.0"/>
<line x1="27.70" y1="211.00" x2="27.70" y2="217.94" stroke="#000" stroke-width="1.0"/>
<line x1="25.45" y1="217.94" x2="29.95" y2="217.94" stroke="#000" stroke-width="1.0"/>
<line x1="39.12" y1="246.22" x2="39.12" y2="241.26" stroke="#000" stroke-width="1.0"/>
<line x1="36.87" y1="241.26" x2="41.37" y2="241.26" stroke="#000" stroke-width="1.0"/>
<line x1="39.12" y1="246.22" x2="39.12" y2="247.21" stroke="#000" stroke-width="1.0"/>
<line x1="36.87" y1="247.21" x2="41.37" y2="247.21" stroke="#000" stroke-width="1.0"/>
<line x1="50.54" y1="262.58" x2="50.54" y2="258.62" stroke="#000" stroke-width="1.0"/>
<line x1="48.29" y1="258.62" x2="52.79" y2="258.62" stroke="#000" stroke-width="1.0"/>
<line x1="50.54" y1="262.58" x2="50.54" y2="263.58" stroke="#000" stroke-width="1.0"/>
<line x1="48.29" y1="263.58" x2="52.79" y2="263.58" stroke="#000" stroke-width="1.0"/>
<line x1="61.96" y1="271.51" x2="61.96" y2="267.54" stroke="#000" stroke-width="1.0"/>
<line x1="59.71" y1="267.54" x2="64.21" y2="267.54" stroke="#000" stroke-width="1.0"/>
<line x1="61.96" y1="271.51" x2="61.96" y2="272.50" stroke="#000" stroke-width="1.0"/>
<line x1="59.71" y1="272.50" x2="64.21" y2="272.50" stroke="#000" stroke-width="1.0"/>
<line x1="73.38" y1="271.02" x2="73.38" y2="266.06" stroke="#000" stroke-width="1.0"/>
<line x1="71.13" y1="266.06" x2="75.63" y2="266.06" stroke="#000" stroke-width="1.0"/>
<line x1="73.38" y1="271.02" x2="73.38" y2="275.98" stroke="#000" stroke-width="1.0"/>
<line x1="71.13" y1="275.98" x2="75.63" y2="275.98" stroke="#000" stroke-width="1.0"/>
<line x1="96.22" y1="267.54" x2="96.22" y2="262.58" stroke="#000" stroke-width="1.0"/>
<line x1="93.97" y1="262.58" x2="98.47" y2="262.58" stroke="#000" stroke-width="1.0"/>
<line x1="96.22" y1="267.54" x2="96.22" y2="272.50" stroke="#000" stroke-width="1.0"/>
<line x1="93.97" y1="272.50" x2="98.47" y2="272.50" stroke="#000" stroke-width="1.0"/>
<line x1="119.06" y1="254.65" x2="119.06" y2="249.69" stroke="#000" stroke-width="1.0"/>
<line x1="116.81" y1="249.69" x2="121.31" y2="249.69" stroke="#000" stroke-width="1.0"/>
<line x1="119.06" y1="254.65" x2="119.06" y2="259.61" stroke="#000" stroke-width="1.0"/>
<line x1="116.81" y1="259.61" x2="121.31" y2="259.61" stroke="#000" stroke-width="1.0"/>
<circle cx="27.70" cy="211.00" r="2.15" fill="none" stroke="#000" stroke-width="1.2"/>
<circle cx="39.12" cy="235.80" r="2.15" fill="none" stroke="#000" stroke-width="1.2"/>
<circle cx="50.54" cy="258.62" r="2.15" fill="none" stroke="#000" stroke-width="1.2"/>
<circle cx="61.96" cy="267.54" r="2.15" fill="none" stroke="#000" stroke-width="1.2"/>
<circle cx="73.38" cy="268.54" r="2.15" fill="none" stroke="#000" stroke-width="1.2"/>
<circle cx="96.22" cy="267.54" r="2.15" fill="none" stroke="#000" stroke-width="1.2"/>
<circle cx="119.06" cy="255.64" r="2.15" fill="none" stroke="#000" stroke-width="1.2"/>
<polygon points="24.80,209.73 30.60,209.73 27.70,214.65" fill="#000"/>
<polygon points="36.22,228.58 42.02,228.58 39.12,233.50" fill="#000"/>
<polygon points="47.64,255.37 53.44,255.37 50.54,260.28" fill="#000"/>
<polygon points="59.06,263.30 64.86,263.30 61.96,268.22" fill="#000"/>
<polygon points="70.48,266.28 76.28,266.28 73.38,271.19" fill="#000"/>
<polygon points="93.31,265.29 99.12,265.29 96.22,270.20" fill="#000"/>
<polygon points="116.15,254.37 121.96,254.37 119.06,259.29" fill="#000"/>
<rect x="25.55" y="208.85" width="4.30" height="4.30" fill="none" stroke="#000" stroke-width="1.2"/>
<rect x="36.97" y="244.07" width="4.30" height="4.30" fill="none" stroke="#000" stroke-width="1.2"/>
<rect x="48.39" y="260.43" width="4.30" height="4.30" fill="none" stroke="#000" stroke-width="1.2"/>
<rect x="59.81" y="269.36" width="4.30" height="4.30" fill="none" stroke="#000" stroke-width="1.2"/>
<rect x="71.23" y="268.87" width="4.30" height="4.30" fill="none" stroke="#000" stroke-width="1.2"/>
<rect x="94.07" y="265.39" width="4.30" height="4.30" fill="none" stroke="#000" stroke-width="1.2"/>
<rect x="116.91" y="252.50" width="4.30" height="4.30" fill="none" stroke="#000" stroke-width="1.2"/>
<line x1="63.80" y1="213.90" x2="73.80" y2="213.90" stroke="#000" stroke-width="1.5"/>
<rect x="66.60" y="211.70" width="4.40" height="4.40" fill="none" stroke="#000" stroke-width="1.2"/>
<text x="76.40" y="214.30" font-size="6.7" text-anchor="start" font-weight="bold">fl/fl</text>
<line x1="63.80" y1="221.80" x2="73.80" y2="221.80" stroke="#000" stroke-width="1.5"/>
<circle cx="68.80" cy="221.80" r="2.20" fill="none" stroke="#000" stroke-width="1.2"/>
<text x="76.20" y="223.60" font-size="7.3" text-anchor="start" font-weight="bold">Alb-Cre PTP1B+/-</text>
<line x1="63.80" y1="229.70" x2="73.80" y2="229.70" stroke="#000" stroke-width="1.5"/>
<polygon points="65.83,227.39 71.77,227.39 68.80,232.41" fill="#000"/>
<text x="76.20" y="231.50" font-size="7.3" text-anchor="start" font-weight="bold">Alb-Cre PTP1B-/-</text>
<text transform="translate(154.20 185.60) scale(0.92 1)" x="0" y="0" font-size="16" font-weight="bold">E</text>
<line x1="174.60" y1="206.70" x2="174.60" y2="310.40" stroke="#000" stroke-width="1.3"/>
<line x1="172.20" y1="309.80" x2="174.60" y2="309.80" stroke="#000" stroke-width="1.2"/>
<text x="170.30" y="312.70" font-size="7" text-anchor="end" font-weight="bold">0</text>
<line x1="172.20" y1="289.30" x2="174.60" y2="289.30" stroke="#000" stroke-width="1.2"/>
<text x="170.30" y="292.20" font-size="7" text-anchor="end" font-weight="bold">20</text>
<line x1="172.20" y1="268.80" x2="174.60" y2="268.80" stroke="#000" stroke-width="1.2"/>
<text x="170.30" y="271.70" font-size="7" text-anchor="end" font-weight="bold">40</text>
<line x1="172.20" y1="248.30" x2="174.60" y2="248.30" stroke="#000" stroke-width="1.2"/>
<text x="170.30" y="251.20" font-size="7" text-anchor="end" font-weight="bold">60</text>
<line x1="172.20" y1="227.80" x2="174.60" y2="227.80" stroke="#000" stroke-width="1.2"/>
<text x="170.30" y="230.70" font-size="7" text-anchor="end" font-weight="bold">80</text>
<line x1="172.20" y1="207.30" x2="174.60" y2="207.30" stroke="#000" stroke-width="1.2"/>
<text x="170.30" y="210.20" font-size="7" text-anchor="end" font-weight="bold">100</text>
<line x1="174.60" y1="309.80" x2="273.70" y2="309.80" stroke="#000" stroke-width="1.3"/>
<line x1="175.40" y1="309.80" x2="175.40" y2="312.20" stroke="#000" stroke-width="1.2"/>
<text x="175.40" y="319.00" font-size="7" text-anchor="middle" font-weight="bold">0</text>
<line x1="186.75" y1="309.80" x2="186.75" y2="312.20" stroke="#000" stroke-width="1.2"/>
<text x="186.75" y="319.00" font-size="7" text-anchor="middle" font-weight="bold">15</text>
<line x1="198.10" y1="309.80" x2="198.10" y2="312.20" stroke="#000" stroke-width="1.2"/>
<text x="198.10" y="319.00" font-size="7" text-anchor="middle" font-weight="bold">30</text>
<line x1="209.45" y1="309.80" x2="209.45" y2="312.20" stroke="#000" stroke-width="1.2"/>
<text x="209.45" y="319.00" font-size="7" text-anchor="middle" font-weight="bold">45</text>
<line x1="220.80" y1="309.80" x2="220.80" y2="312.20" stroke="#000" stroke-width="1.2"/>
<text x="220.80" y="319.00" font-size="7" text-anchor="middle" font-weight="bold">60</text>
<line x1="243.50" y1="309.80" x2="243.50" y2="312.20" stroke="#000" stroke-width="1.2"/>
<text x="243.50" y="319.00" font-size="7" text-anchor="middle" font-weight="bold">90</text>
<line x1="266.20" y1="309.80" x2="266.20" y2="312.20" stroke="#000" stroke-width="1.2"/>
<text x="266.20" y="319.00" font-size="7" text-anchor="middle" font-weight="bold">120</text>
<text x="221.00" y="328.20" font-size="7.9" text-anchor="middle" font-weight="bold">Time (min)</text>
<text x="159.20" y="257.90" font-size="8.05" text-anchor="middle" font-weight="bold" transform="rotate(-90 159.2 257.9)">% of initial blood glucose</text>
<polyline points="175.40,206.79 186.75,240.10 198.10,257.53 209.45,265.21 220.80,264.19 243.50,261.62 266.20,251.38" fill="none" stroke="#000" stroke-width="1.4" stroke-linejoin="round"/>
<polyline points="175.40,206.79 186.75,241.12 198.10,256.50 209.45,259.06 220.80,263.68 243.50,260.60 266.20,243.59" fill="none" stroke="#000" stroke-width="1.6" stroke-linejoin="round"/>
<line x1="186.75" y1="240.10" x2="186.75" y2="231.90" stroke="#000" stroke-width="1.0"/>
<line x1="184.50" y1="231.90" x2="189.00" y2="231.90" stroke="#000" stroke-width="1.0"/>
<line x1="186.75" y1="240.10" x2="186.75" y2="248.30" stroke="#000" stroke-width="1.0"/>
<line x1="184.50" y1="248.30" x2="189.00" y2="248.30" stroke="#000" stroke-width="1.0"/>
<line x1="198.10" y1="257.53" x2="198.10" y2="252.40" stroke="#000" stroke-width="1.0"/>
<line x1="195.85" y1="252.40" x2="200.35" y2="252.40" stroke="#000" stroke-width="1.0"/>
<line x1="198.10" y1="257.53" x2="198.10" y2="262.65" stroke="#000" stroke-width="1.0"/>
<line x1="195.85" y1="262.65" x2="200.35" y2="262.65" stroke="#000" stroke-width="1.0"/>
<line x1="209.45" y1="265.21" x2="209.45" y2="258.04" stroke="#000" stroke-width="1.0"/>
<line x1="207.20" y1="258.04" x2="211.70" y2="258.04" stroke="#000" stroke-width="1.0"/>
<line x1="209.45" y1="265.21" x2="209.45" y2="272.39" stroke="#000" stroke-width="1.0"/>
<line x1="207.20" y1="272.39" x2="211.70" y2="272.39" stroke="#000" stroke-width="1.0"/>
<line x1="220.80" y1="264.19" x2="220.80" y2="259.06" stroke="#000" stroke-width="1.0"/>
<line x1="218.55" y1="259.06" x2="223.05" y2="259.06" stroke="#000" stroke-width="1.0"/>
<line x1="220.80" y1="264.19" x2="220.80" y2="269.31" stroke="#000" stroke-width="1.0"/>
<line x1="218.55" y1="269.31" x2="223.05" y2="269.31" stroke="#000" stroke-width="1.0"/>
<line x1="243.50" y1="261.62" x2="243.50" y2="255.48" stroke="#000" stroke-width="1.0"/>
<line x1="241.25" y1="255.48" x2="245.75" y2="255.48" stroke="#000" stroke-width="1.0"/>
<line x1="243.50" y1="261.62" x2="243.50" y2="267.78" stroke="#000" stroke-width="1.0"/>
<line x1="241.25" y1="267.78" x2="245.75" y2="267.78" stroke="#000" stroke-width="1.0"/>
<line x1="266.20" y1="251.38" x2="266.20" y2="244.20" stroke="#000" stroke-width="1.0"/>
<line x1="263.95" y1="244.20" x2="268.45" y2="244.20" stroke="#000" stroke-width="1.0"/>
<line x1="266.20" y1="251.38" x2="266.20" y2="258.55" stroke="#000" stroke-width="1.0"/>
<line x1="263.95" y1="258.55" x2="268.45" y2="258.55" stroke="#000" stroke-width="1.0"/>
<line x1="186.75" y1="241.12" x2="186.75" y2="232.93" stroke="#000" stroke-width="1.0"/>
<line x1="184.50" y1="232.93" x2="189.00" y2="232.93" stroke="#000" stroke-width="1.0"/>
<line x1="186.75" y1="241.12" x2="186.75" y2="249.33" stroke="#000" stroke-width="1.0"/>
<line x1="184.50" y1="249.33" x2="189.00" y2="249.33" stroke="#000" stroke-width="1.0"/>
<line x1="198.10" y1="256.50" x2="198.10" y2="251.38" stroke="#000" stroke-width="1.0"/>
<line x1="195.85" y1="251.38" x2="200.35" y2="251.38" stroke="#000" stroke-width="1.0"/>
<line x1="198.10" y1="256.50" x2="198.10" y2="261.62" stroke="#000" stroke-width="1.0"/>
<line x1="195.85" y1="261.62" x2="200.35" y2="261.62" stroke="#000" stroke-width="1.0"/>
<line x1="209.45" y1="259.06" x2="209.45" y2="253.94" stroke="#000" stroke-width="1.0"/>
<line x1="207.20" y1="253.94" x2="211.70" y2="253.94" stroke="#000" stroke-width="1.0"/>
<line x1="209.45" y1="259.06" x2="209.45" y2="264.19" stroke="#000" stroke-width="1.0"/>
<line x1="207.20" y1="264.19" x2="211.70" y2="264.19" stroke="#000" stroke-width="1.0"/>
<line x1="220.80" y1="263.68" x2="220.80" y2="257.53" stroke="#000" stroke-width="1.0"/>
<line x1="218.55" y1="257.53" x2="223.05" y2="257.53" stroke="#000" stroke-width="1.0"/>
<line x1="220.80" y1="263.68" x2="220.80" y2="269.83" stroke="#000" stroke-width="1.0"/>
<line x1="218.55" y1="269.83" x2="223.05" y2="269.83" stroke="#000" stroke-width="1.0"/>
<line x1="243.50" y1="260.60" x2="243.50" y2="254.45" stroke="#000" stroke-width="1.0"/>
<line x1="241.25" y1="254.45" x2="245.75" y2="254.45" stroke="#000" stroke-width="1.0"/>
<line x1="243.50" y1="260.60" x2="243.50" y2="266.75" stroke="#000" stroke-width="1.0"/>
<line x1="241.25" y1="266.75" x2="245.75" y2="266.75" stroke="#000" stroke-width="1.0"/>
<line x1="266.20" y1="243.59" x2="266.20" y2="240.51" stroke="#000" stroke-width="1.0"/>
<line x1="263.95" y1="240.51" x2="268.45" y2="240.51" stroke="#000" stroke-width="1.0"/>
<line x1="266.20" y1="243.59" x2="266.20" y2="246.66" stroke="#000" stroke-width="1.0"/>
<line x1="263.95" y1="246.66" x2="268.45" y2="246.66" stroke="#000" stroke-width="1.0"/>
<rect x="184.60" y="237.95" width="4.30" height="4.30" fill="none" stroke="#000" stroke-width="1.2"/>
<rect x="195.95" y="255.38" width="4.30" height="4.30" fill="none" stroke="#000" stroke-width="1.2"/>
<rect x="207.30" y="263.06" width="4.30" height="4.30" fill="none" stroke="#000" stroke-width="1.2"/>
<rect x="218.65" y="262.04" width="4.30" height="4.30" fill="none" stroke="#000" stroke-width="1.2"/>
<rect x="241.35" y="259.48" width="4.30" height="4.30" fill="none" stroke="#000" stroke-width="1.2"/>
<rect x="264.05" y="249.22" width="4.30" height="4.30" fill="none" stroke="#000" stroke-width="1.2"/>
<polygon points="172.50,204.53 178.30,204.53 175.40,209.45" fill="#000"/>
<polygon points="183.85,238.87 189.65,238.87 186.75,243.78" fill="#000"/>
<polygon points="195.20,254.24 201.00,254.24 198.10,259.16" fill="#000"/>
<polygon points="206.55,256.81 212.35,256.81 209.45,261.72" fill="#000"/>
<polygon points="217.90,261.42 223.70,261.42 220.80,266.33" fill="#000"/>
<polygon points="240.60,258.34 246.41,258.34 243.50,263.26" fill="#000"/>
<polygon points="263.30,241.33 269.11,241.33 266.20,246.24" fill="#000"/>
<line x1="214.80" y1="213.30" x2="224.80" y2="213.30" stroke="#000" stroke-width="1.5"/>
<rect x="217.60" y="211.10" width="4.40" height="4.40" fill="none" stroke="#000" stroke-width="1.2"/>
<text x="227.40" y="214.20" font-size="6.2" text-anchor="start" font-weight="bold">fl/fl</text>
<line x1="214.80" y1="221.70" x2="224.80" y2="221.70" stroke="#000" stroke-width="1.5"/>
<polygon points="216.83,219.39 222.77,219.39 219.80,224.41" fill="#000"/>
<text x="227.20" y="223.50" font-size="7.3" text-anchor="start" font-weight="bold">Alb-Cre PTP1B-/-</text>
</svg>
</body></html>
